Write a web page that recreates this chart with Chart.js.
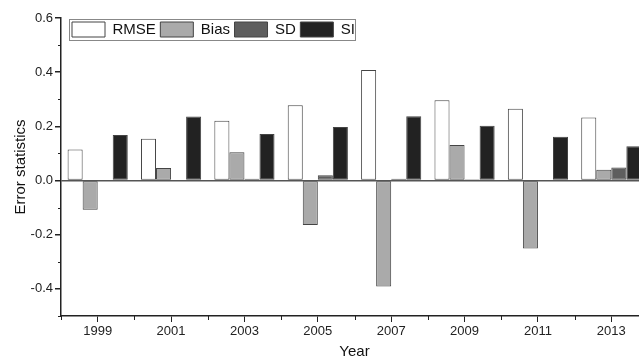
<!DOCTYPE html>
<html>
<head>
<meta charset="UTF-8">
<title>Error statistics</title>
<script src="https://cdn.jsdelivr.net/npm/chart.js"></script>
<style>
    html, body { margin: 0; padding: 0; background: #fff; overflow: hidden; }
    #wrap { width: 650px; height: 361px; }
</style>
</head>
<body>
<div id="wrap"><canvas id="chart"></canvas></div>
<script>
    // values
    const years = ['1999', '2001', '2003', '2005', '2007', '2009', '2011', '2013'];
    const rmse = [0.115, 0.154, 0.221, 0.278, 0.408, 0.296, 0.265, 0.233];
    const bias = [-0.108, 0.046, 0.104, -0.164, -0.391, 0.131, -0.251, 0.040];
    const sd   = [0.000, 0.003, 0.007, 0.020, 0.007, 0.005, 0.003, 0.048];
    const si   = [0.168, 0.236, 0.172, 0.198, 0.237, 0.202, 0.162, 0.127];
    const yTickLabels = ['-0.4', '-0.2', '0.0', '0.2', '0.4', '0.6'];

    const ink = '#222';
    const font = 'Arial, "Liberation Sans", sans-serif';

    const yLabel = v => {
        const lbl = Math.abs(v) < 1e-9 ? '0.0' : v.toFixed(1);
        return yTickLabels.includes(lbl) ? lbl : '';
    };

    // legend sits inside the plot, one row, with a frame; minor ticks on both axes
    const extras = {
        id: 'extras',
        beforeLayout(chart) {
            const lg = chart.legend;
            if (lg && !lg._noSpace) {
                const fit = lg.fit.bind(lg);
                lg.fit = function () { fit(); this._realHeight = this.height; this.height = 0; };
                lg._noSpace = true;
            }
        },
        afterLayout(chart) {
            const lg = chart.legend;
            if (!lg) return;
            const dx = 67.5 - lg.left, dy = 17.5 - lg.top;
            lg.left += dx; lg.right = lg.left + lg.width;
            lg.top += dy; lg.height = lg._realHeight || 30; lg.bottom = lg.top + lg.height;
            lg.legendHitBoxes.forEach(b => { b.left += dx; b.top += dy; });
        },
        afterDraw(chart) {
            const ctx = chart.ctx;
            const boxes = chart.legend ? chart.legend.legendHitBoxes : [];
            if (boxes.length) {
                const l = Math.min(...boxes.map(b => b.left)) - 3;
                const r = Math.max(...boxes.map(b => b.left + b.width)) + 0;
                const t = Math.min(...boxes.map(b => b.top)) - 3;
                const bt = Math.max(...boxes.map(b => b.top + b.height)) + 3;
                ctx.save();
                ctx.strokeStyle = '#888';
                ctx.lineWidth = 1;
                ctx.strokeRect(Math.round(l) + 0.5, Math.round(t) + 0.5, Math.round(r - l), Math.round(bt - t));
                ctx.restore();
            }
            const xs = chart.scales.x, ys = chart.scales.y;
            const n = years.length;
            ctx.save();
            ctx.strokeStyle = ink;
            ctx.lineWidth = 1;
            ctx.beginPath();
            for (let i = 0; i <= n; i++) {
                const x = Math.round(xs.left + i * (xs.width / n)) + 0.5;
                ctx.moveTo(x, xs.top);
                ctx.lineTo(x, xs.top + 4);
            }
            ys.ticks.forEach(tk => {
                if (yLabel(tk.value) !== '') return;
                const y = Math.round(ys.getPixelForValue(tk.value)) + 0.5;
                ctx.moveTo(ys.right - 3, y);
                ctx.lineTo(ys.right, y);
            });
            ctx.stroke();
            ctx.restore();
        }
    };

    const mk = (label, data, color) => ({
        label: label,
        data: data,
        backgroundColor: color,
        borderColor: '#444',
        borderWidth: 1,
        borderSkipped: false,
        barPercentage: 1,
        categoryPercentage: 0.82
    });

    new Chart(document.getElementById('chart'), {
        type: 'bar',
        data: {
            labels: years,
            datasets: [
                mk('RMSE', rmse, '#ffffff'),
                mk('Bias', bias, '#aaaaaa'),
                mk('SD', sd, '#5e5e5e'),
                mk('SI', si, '#222222')
            ]
        },
        options: {
            responsive: true,
            maintainAspectRatio: false,
            animation: false,
            layout: { padding: { top: 18, right: 2, left: 0, bottom: 0 } },
            plugins: {
                tooltip: { enabled: false },
                legend: {
                    position: 'top',
                    align: 'start',
                    labels: {
                        boxWidth: 33,
                        boxHeight: 15,
                        padding: 4.5,
                        color: '#111',
                        font: { family: font, size: 15 }
                    }
                }
            },
            scales: {
                x: {
                    afterFit: s => { s.height = 45; },
                    grid: { offset: false, drawOnChartArea: false, tickLength: 6, tickColor: ink },
                    border: { color: ink, width: 1.5 },
                    ticks: { color: ink, padding: 2, font: { family: font, size: 13 } },
                    title: { display: true, text: 'Year', color: '#111', padding: { top: 0, bottom: 0 }, font: { family: font, size: 15 } }
                },
                y: {
                    min: -0.5,
                    max: 0.6,
                    afterFit: s => { s.width = 61; },
                    grid: {
                        color: c => (c.tick && Math.abs(c.tick.value) < 1e-9) ? '#555' : 'transparent',
                        lineWidth: 1.5,
                        tickLength: 6,
                        tickColor: c => (c.tick && yLabel(c.tick.value) !== '') ? ink : 'transparent'
                    },
                    border: { color: ink, width: 1.5 },
                    ticks: {
                        stepSize: 0.1,
                        color: ink,
                        padding: 2,
                        font: { family: font, size: 13 },
                        callback: yLabel
                    },
                    title: { display: true, text: 'Error statistics', color: '#111', padding: { top: 12, bottom: 0 }, font: { family: font, size: 15 } }
                }
            }
        },
        plugins: [extras]
    });
</script>
</body>
</html>
